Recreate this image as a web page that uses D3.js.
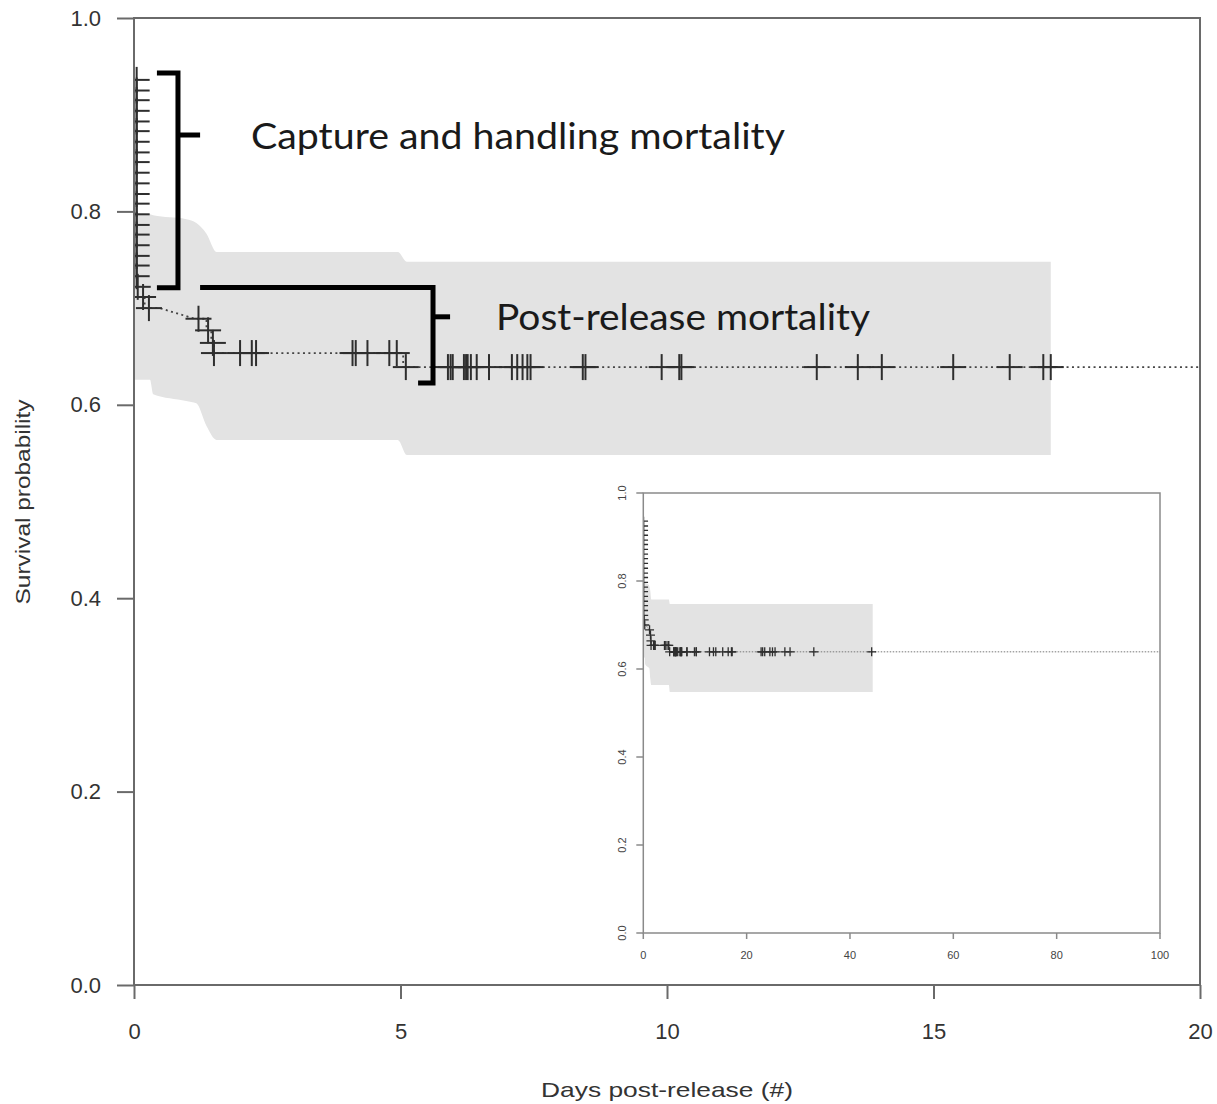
<!DOCTYPE html>
<html><head><meta charset="utf-8">
<script src="https://cdn.jsdelivr.net/npm/d3@7"></script>
<style>body{margin:0;background:#fff}</style>
</head><body>
<svg id="chart" width="1217" height="1104" xmlns="http://www.w3.org/2000/svg"></svg>
<script>
// ---------------- DATA ----------------
const xTicks = [0, 5, 10, 15, 20];
const yTicks = [0, 0.2, 0.4, 0.6, 0.8, 1.0];
const insetXTicks = [0, 20, 40, 60, 80, 100];
const insetYTicks = [0, 0.2, 0.4, 0.6, 0.8, 1.0];

// Kaplan-Meier curve (dotted), time in days and survival
const curveTime = [0, 0.2, 0.2, 0.48, 1.14, 1.36, 1.36, 1.45, 1.45, 1.50, 1.50, 5.05, 5.05, 100];
const curveSurv = [0.7115, 0.7115, 0.700, 0.700, 0.689, 0.689, 0.677, 0.677, 0.664, 0.664, 0.6535, 0.6535, 0.639, 0.639];

// censor marks at time ~0 (capture and handling)
const earlyMarkTime = 0.05;
const earlyMarkSurv = [0.936, 0.925, 0.915, 0.904, 0.893, 0.883, 0.872, 0.861, 0.851, 0.840,
                       0.829, 0.818, 0.808, 0.797, 0.786, 0.776, 0.765, 0.754, 0.744, 0.733];

// other censor marks
const censorTime = [0.07, 0.17, 0.28, 1.21, 1.39, 1.48, 1.50, 1.99, 2.21, 2.29,
                    4.10, 4.16, 4.38, 4.79, 4.93, 5.10,
                    5.89, 5.94, 5.98, 6.19, 6.23, 6.26, 6.32, 6.43, 6.66,
                    7.09, 7.19, 7.29, 7.38, 7.44, 8.42, 8.47, 9.90, 10.23, 10.27,
                    12.81, 13.58, 14.03, 15.37, 16.43, 17.06, 17.20,
                    22.8, 23.1, 23.5, 24.5, 25.0, 25.5, 27.4, 28.4, 33.0, 44.2];
const censorSurv = [0.722, 0.7115, 0.700, 0.689, 0.677, 0.664, 0.6535, 0.6535, 0.6535, 0.6535,
                    0.6535, 0.6535, 0.6535, 0.6535, 0.6535, 0.639,
                    0.639, 0.639, 0.639, 0.639, 0.639, 0.639, 0.639, 0.639, 0.639,
                    0.639, 0.639, 0.639, 0.639, 0.639, 0.639, 0.639, 0.639, 0.639, 0.639,
                    0.639, 0.639, 0.639, 0.639, 0.639, 0.639, 0.639,
                    0.639, 0.639, 0.639, 0.639, 0.639, 0.639, 0.639, 0.639, 0.639, 0.639];

// confidence band
const bandTime  = [0, 0.30, 0.36, 0.98, 1.17, 1.36, 1.55, 4.95, 5.12];
const bandUpper = [0.798, 0.797, 0.796, 0.792, 0.788, 0.777, 0.758, 0.758, 0.748];
const bandLower = [0.626, 0.626, 0.611, 0.604, 0.6015, 0.578, 0.5636, 0.5636, 0.548];
const mainBandEnd = 17.2;
const insetBandEnd = 44.4;

// annotation brackets (data coords)
const bracket1 = [[0.43, 0.943], [0.825, 0.943], [0.825, 0.721], [0.43, 0.721]];
const bracket1Tick = [[0.825, 0.879], [1.24, 0.879]];
const bracket2 = [[1.24, 0.7213], [5.61, 0.7213], [5.61, 0.6225], [5.33, 0.6225]];
const bracket2Tick = [[5.61, 0.691], [5.93, 0.691]];
const labels = ["Capture and handling mortality", "Post-release mortality"];
const xTitle = "Days post-release (#)";
const yTitle = "Survival probability";

// ---------------- DRAW ----------------
const svg = d3.select("#chart");
const L = 134, R = 1200, T = 18, B = 985;
const x = d3.scaleLinear().domain([0, 20]).range([L, R]);
const y = d3.scaleLinear().domain([0, 1]).range([B, T]);

const defs = svg.append("defs");
defs.append("clipPath").attr("id", "clipMain").append("rect")
  .attr("x", L).attr("y", T).attr("width", R - L).attr("height", B - T);

const curvePts = curveTime.map((t, i) => [t, curveSurv[i]]);
const marks = censorTime.map((t, i) => [t, censorSurv[i]]);
const early = earlyMarkSurv.map(s => [earlyMarkTime, s]);

function bandData(end) {
  const d = bandTime.map((t, i) => ({t, u: bandUpper[i], l: bandLower[i]}));
  d.push({t: end, u: bandUpper[bandUpper.length - 1], l: bandLower[bandLower.length - 1]});
  return d;
}

function drawPanel(g, xs, ys, bandEnd, half, markW, lineStyle) {
  g.append("path").datum(bandData(bandEnd))
    .attr("d", d3.area().x(d => xs(d.t)).y0(d => ys(d.l)).y1(d => ys(d.u)).curve(d3.curveMonotoneX))
    .attr("fill", "#e3e3e3");
  g.append("path").datum(curvePts)
    .attr("d", d3.line().x(d => xs(d[0])).y(d => ys(d[1])))
    .attr("fill", "none").attr("stroke", lineStyle.color)
    .attr("stroke-width", lineStyle.width).attr("stroke-dasharray", lineStyle.dash);
  const all = early.concat(marks).filter(d => d[0] <= xs.domain()[1]);
  const mg = g.append("g").attr("stroke", "#2e2e2e").attr("stroke-width", markW);
  all.forEach(d => {
    const cx = xs(d[0]), cy = ys(d[1]);
    mg.append("line").attr("x1", cx - half).attr("x2", cx + half).attr("y1", cy).attr("y2", cy);
    mg.append("line").attr("x1", cx).attr("x2", cx).attr("y1", cy - half).attr("y2", cy + half);
  });
}

const gMain = svg.append("g").attr("clip-path", "url(#clipMain)");
drawPanel(gMain, x, y, mainBandEnd, 13, 2, {color: "#444", width: 1.8, dash: "2,3.4"});

// frame
svg.append("rect").attr("x", L).attr("y", T).attr("width", R - L).attr("height", B - T)
  .attr("fill", "none").attr("stroke", "#6a6a6a").attr("stroke-width", 2);

// axes
const fontAx = "'Liberation Sans', Arial, sans-serif";
const yAx = svg.append("g").attr("transform", `translate(${L},0)`)
  .call(d3.axisLeft(y).tickValues(yTicks).tickSize(17).tickPadding(16).tickFormat(d3.format(".1f")));
const xAx = svg.append("g").attr("transform", `translate(0,${B})`)
  .call(d3.axisBottom(x).tickValues(xTicks).tickSize(14).tickPadding(24).tickFormat(d3.format("d")));
[yAx, xAx].forEach(a => {
  a.select(".domain").remove();
  a.selectAll(".tick line").attr("stroke", "#6a6a6a").attr("stroke-width", 2);
  a.selectAll(".tick text").attr("font-family", fontAx).attr("font-size", 22).attr("fill", "#333");
});

svg.append("text").attr("x", 667).attr("y", 1097).attr("text-anchor", "middle")
  .attr("font-family", fontAx).attr("font-size", 21).attr("fill", "#333")
  .attr("textLength", 252).attr("lengthAdjust", "spacingAndGlyphs").text(xTitle);
svg.append("text").attr("transform", "translate(30,502) rotate(-90)").attr("text-anchor", "middle")
  .attr("font-family", fontAx).attr("font-size", 21).attr("fill", "#333")
  .attr("textLength", 205).attr("lengthAdjust", "spacingAndGlyphs").text(yTitle);

// brackets
const bl = d3.line().x(d => x(d[0])).y(d => y(d[1]));
[bracket1, bracket1Tick, bracket2, bracket2Tick].forEach(b => {
  svg.append("path").attr("d", bl(b)).attr("fill", "none").attr("stroke", "#000")
    .attr("stroke-width", 5).attr("stroke-linejoin", "miter").attr("stroke-linecap", "butt");
});

// annotations
const fontAnn = "Lato, 'Open Sans', sans-serif";
svg.append("text").attr("x", 251).attr("y", 149).attr("font-family", fontAnn).attr("font-size", 36)
  .attr("fill", "#1a1a1a").attr("textLength", 534).attr("lengthAdjust", "spacingAndGlyphs").text(labels[0]);
svg.append("text").attr("x", 496).attr("y", 330).attr("font-family", fontAnn).attr("font-size", 36)
  .attr("fill", "#1a1a1a").attr("textLength", 374).attr("lengthAdjust", "spacingAndGlyphs").text(labels[1]);

// ---------------- INSET ----------------
const iL = 643.3, iR = 1160, iT = 493, iB = 933;
const xi = d3.scaleLinear().domain([0, 100]).range([iL, iR]);
const yi = d3.scaleLinear().domain([0, 1]).range([iB, iT]);
defs.append("clipPath").attr("id", "clipInset").append("rect")
  .attr("x", iL).attr("y", iT).attr("width", iR - iL).attr("height", iB - iT);
svg.append("rect").attr("x", iL).attr("y", iT).attr("width", iR - iL).attr("height", iB - iT).attr("fill", "#fff");
const gIn = svg.append("g").attr("clip-path", "url(#clipInset)");
drawPanel(gIn, xi, yi, insetBandEnd, 4.5, 1.3, {color: "#777", width: 1, dash: "1.5,1.5"});
svg.append("rect").attr("x", iL).attr("y", iT).attr("width", iR - iL).attr("height", iB - iT)
  .attr("fill", "none").attr("stroke", "#8a8a8a").attr("stroke-width", 1.5);
const ig = svg.append("g");
insetYTicks.forEach(v => {
  ig.append("line").attr("x1", iL - 7).attr("x2", iL).attr("y1", yi(v)).attr("y2", yi(v))
    .attr("stroke", "#8a8a8a").attr("stroke-width", 1.5);
  ig.append("text").attr("transform", `translate(622,${yi(v)}) rotate(-90)`)
    .attr("text-anchor", "middle").attr("dominant-baseline", "central")
    .attr("font-family", fontAx).attr("font-size", 11).attr("fill", "#444").text(d3.format(".1f")(v));
});
insetXTicks.forEach(v => {
  ig.append("line").attr("x1", xi(v)).attr("x2", xi(v)).attr("y1", iB).attr("y2", iB + 6)
    .attr("stroke", "#8a8a8a").attr("stroke-width", 1.5);
  ig.append("text").attr("x", xi(v)).attr("y", iB + 22)
    .attr("text-anchor", "middle").attr("dominant-baseline", "central")
    .attr("font-family", fontAx).attr("font-size", 11).attr("fill", "#444").text(v);
});
</script>
</body></html>
